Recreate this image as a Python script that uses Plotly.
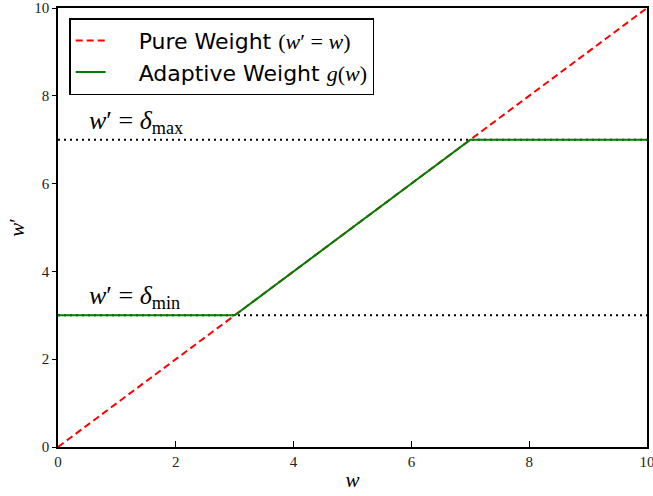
import plotly.graph_objects as go

w_pure = [0, 10]
wp_pure = [0, 10]
w_adapt = [0, 3, 7, 10]
wp_adapt = [3, 3, 7, 7]
delta_min = 3
delta_max = 7
x_range = [0, 10]
tick_vals = [0, 2, 4, 6, 8, 10]

serif = "Liberation Serif, DejaVu Serif, serif"
sans = "DejaVu Sans, sans-serif"

def m(s):
    return f"<span style='font-family:{serif}'>{s}</span>"

pad = "&nbsp;" * 4

fig = go.Figure()
fig.add_trace(go.Scatter(x=x_range, y=[delta_max, delta_max], mode="lines",
                         line=dict(color="black", width=2, dash="2px,4px"), showlegend=False))
fig.add_trace(go.Scatter(x=x_range, y=[delta_min, delta_min], mode="lines",
                         line=dict(color="black", width=2, dash="2px,4px"), showlegend=False))
fig.add_trace(go.Scatter(x=w_pure, y=wp_pure, mode="lines",
                         name=pad + "Pure Weight " + m("(<i>w</i>′ = <i>w</i>)"),
                         line=dict(color="red", width=2, dash="7px,4px")))
fig.add_trace(go.Scatter(x=w_adapt, y=wp_adapt, mode="lines",
                         name=pad + "Adaptive Weight " + m("<i>g</i>(<i>w</i>)"),
                         line=dict(color="green", width=2)))

fig.add_annotation(x=0.5, y=delta_max, text="<i>w</i>′ = <i>δ</i><sub>max</sub>",
                   showarrow=False, xanchor="left", yanchor="bottom", yshift=0,
                   font=dict(family=serif, size=26, color="black"))
fig.add_annotation(x=0.5, y=delta_min, text="<i>w</i>′ = <i>δ</i><sub>min</sub>",
                   showarrow=False, xanchor="left", yanchor="bottom", yshift=0,
                   font=dict(family=serif, size=26, color="black"))

fig.update_layout(
    width=653, height=496,
    margin=dict(l=58, r=6, t=8, b=49),
    plot_bgcolor="white", paper_bgcolor="white",
    legend=dict(x=0.019, y=0.977, xanchor="left", yanchor="top",
                bordercolor="black", borderwidth=1.5, bgcolor="white",
                font=dict(family=sans, size=22, color="black"),
                traceorder="normal", tracegroupgap=0),
    xaxis=dict(range=x_range, tickvals=tick_vals, ticks="inside", ticklen=6,
               tickcolor="black", showgrid=False, zeroline=False, automargin=False,
               showline=True, linecolor="black", linewidth=1.5, mirror=True,
               ticklabeloverflow="allow",
               tickfont=dict(family=serif, size=15, color="#222"),
               title=dict(text="<i>w</i>", font=dict(family=serif, size=21, color="black"), standoff=4)),
    yaxis=dict(range=x_range, tickvals=tick_vals, ticks="outside", ticklen=4,
               tickcolor="black", showgrid=False, zeroline=False, automargin=False,
               showline=True, linecolor="black", linewidth=1.5, mirror=True,
               ticklabeloverflow="allow",
               tickfont=dict(family=serif, size=15, color="#222"),
               title=dict(text="<i>w</i>′", font=dict(family=serif, size=21, color="black"), standoff=4)),
)

fig.write_html("out.html", config={"displayModeBar": False},
               post_script="document.body.style.margin='0';")
